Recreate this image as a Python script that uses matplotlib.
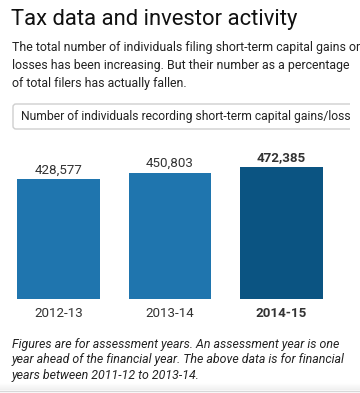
import matplotlib
matplotlib.use("Agg")
import matplotlib.pyplot as plt
from matplotlib.patches import FancyBboxPatch
import numpy as np

categories = ["2012-13", "2013-14", "2014-15"]
values = [428577, 450803, 472385]
value_labels = ["428,577", "450,803", "472,385"]
bar_colors = ["#1f75ae", "#1f75ae", "#0b5482"]

title = "Tax data and investor activity"
subtitle = ("The total number of individuals filing short-term capital gains or\n"
            "losses has been increasing. But their number as a percentage\n"
            "of total filers has actually fallen.")
dropdown = "Number of individuals recording short-term capital gains/loss"
footnote = ("Figures are for assessment years. An assessment year is one\n"
            "year ahead of the financial year. The above data is for financial\n"
            "years between 2011-12 to 2013-14.")

W, H = 360, 393
plt.rcParams['font.family'] = ['Roboto', 'DejaVu Sans']
fig = plt.figure(figsize=(W / 100, H / 100), dpi=100)
fig.patch.set_facecolor("white")

def fx(x):
    return x / W

def fy(y):
    return 1 - y / H

TXT = "#222222"

fig.text(fx(11), fy(19), title, fontsize=15.8, color="#111111", va="center", ha="left")
fig.text(fx(12), fy(66), subtitle, fontsize=8.9, color=TXT, va="center", ha="left",
         linespacing=1.5)

# dropdown box
dax = fig.add_axes([0, fy(133), fx(350), (133 - 100) / H])
dax.set_xlim(0, 350)
dax.set_ylim(133, 100)
dax.axis("off")
box = FancyBboxPatch((13, 104), 400, 25, boxstyle="round,pad=0,rounding_size=3",
                     facecolor="white", edgecolor="#cfcfcf", linewidth=1.0)
dax.add_patch(box)
dax.text(21, 116.5, dropdown, fontsize=8.75, color=TXT, va="center", ha="left")

# bars
base_px = 299
ax_h_px = 150
ymax = values[2] * ax_h_px / 132
ax = fig.add_axes([fx(2.75), fy(base_px), fx(337.25) - fx(2.75), ax_h_px / H])
x = np.arange(len(categories))
ax.bar(x, values, width=0.744, color=bar_colors)
ax.set_xlim(-0.5, 2.5)
ax.set_ylim(0, ymax)
ax.axis("off")
for i, (v, lab) in enumerate(zip(values, value_labels)):
    bold = i == len(values) - 1
    ax.annotate(lab, (x[i], v), xytext=(0, 2), textcoords="offset points",
                ha="center", va="bottom", fontsize=9.6, color="#333333",
                fontweight="bold" if bold else "normal")
    ax.annotate(categories[i], (x[i], 0), xytext=(0, -5.5), textcoords="offset points",
                ha="center", va="top", fontsize=9.6, color="#333333",
                fontweight="bold" if bold else "normal")

fig.text(fx(12), fy(360), footnote, fontsize=8.9, color=TXT, va="center", ha="left",
         style="italic", linespacing=1.25)

# bottom shadow line
sax = fig.add_axes([0, 0, 1, fy(382)])
sax.set_xlim(0, W)
sax.set_ylim(393, 382)
sax.axis("off")
grad = np.linspace(0, 1, 20).reshape(-1, 1)
sax.imshow(grad, extent=(0, W, 390, 383), cmap="Greys", vmin=0, vmax=8, aspect="auto")
sax.plot([0, W], [390.5, 390.5], color="#d8d8d8", lw=1)

fig.savefig("out.png", dpi=100, facecolor="white")
